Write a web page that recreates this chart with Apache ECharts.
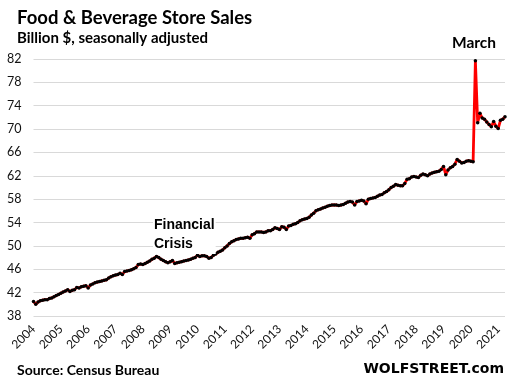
<!DOCTYPE html>
<html>
<head>
<meta charset="utf-8">
<script src="https://cdn.jsdelivr.net/npm/echarts@6/dist/echarts.min.js"></script>
<style>
html,body{margin:0;padding:0;background:#fff;}
#chart{width:510px;height:382px;}
</style>
</head>
<body>
<div id="chart"></div>
<script>
// Year tick labels (each year has 12 monthly points; 2021 runs Jan-Apr)
const years = ["2004","2005","2006","2007","2008","2009","2010","2011","2012","2013","2014","2015","2016","2017","2018","2019","2020","2021"];
const monthsInLastYear = 4;

// Food & beverage store sales, billion $, seasonally adjusted (monthly)
const sales2004 = [40.5, 40.0, 40.4, 40.6, 40.7, 40.8, 40.8, 41.0, 41.1, 41.3, 41.5, 41.7];
const sales2005 = [41.9, 42.1, 42.3, 42.5, 42.2, 42.4, 42.5, 42.9, 42.8, 43.0, 43.1, 43.2];
const sales2006 = [42.8, 43.3, 43.5, 43.7, 43.8, 43.9, 44.0, 44.1, 44.2, 44.5, 44.7, 44.9];
const sales2007 = [45.0, 45.1, 45.3, 45.1, 45.6, 45.7, 45.8, 45.9, 46.1, 46.3, 46.8, 46.9];
const sales2008 = [46.8, 47.0, 47.2, 47.4, 47.7, 47.9, 48.2, 48.0, 47.7, 47.5, 47.3, 47.1];
const sales2009 = [47.3, 47.5, 47.0, 47.1, 47.2, 47.3, 47.4, 47.5, 47.6, 47.7, 47.9, 48.0];
const sales2010 = [48.4, 48.2, 48.3, 48.3, 48.2, 47.9, 48.0, 48.4, 48.6, 48.9, 49.1, 49.3];
const sales2011 = [49.7, 50.0, 50.4, 50.7, 50.9, 51.1, 51.2, 51.3, 51.3, 51.4, 51.5, 51.3];
const sales2012 = [51.9, 52.1, 52.4, 52.4, 52.4, 52.3, 52.4, 52.6, 52.6, 52.8, 53.1, 53.0];
const sales2013 = [52.8, 53.3, 53.2, 52.8, 53.4, 53.5, 53.7, 53.8, 54.0, 54.3, 54.5, 54.6];
const sales2014 = [54.7, 54.9, 55.3, 55.6, 56.0, 56.2, 56.3, 56.5, 56.6, 56.8, 56.9, 57.0];
const sales2015 = [57.0, 57.0, 56.9, 57.0, 57.1, 57.3, 57.5, 57.6, 57.5, 57.0, 57.6, 57.7];
const sales2016 = [57.8, 57.7, 57.2, 58.0, 58.1, 58.2, 58.3, 58.5, 58.7, 58.8, 59.1, 59.3];
const sales2017 = [59.6, 60.0, 60.2, 60.5, 60.4, 60.3, 60.3, 60.7, 61.4, 61.5, 61.8, 61.9];
const sales2018 = [61.8, 61.7, 62.1, 62.3, 62.2, 62.0, 62.3, 62.5, 62.6, 62.7, 62.8, 63.1];
const sales2019 = [63.6, 62.2, 63.0, 63.4, 63.6, 64.0, 64.8, 64.5, 64.2, 64.3, 64.5, 64.6];
const sales2020 = [64.5, 64.4, 81.7, 71.1, 72.7, 71.9, 71.7, 71.2, 70.8, 70.4, 71.3, 70.5];
const sales2021 = [70.1, 71.5, 71.7, 72.1];

// Y tick labels
const yTicks = [38, 42, 46, 50, 54, 58, 62, 66, 70, 74, 78, 82];

const sales = [].concat(sales2004, sales2005, sales2006, sales2007, sales2008, sales2009,
  sales2010, sales2011, sales2012, sales2013, sales2014, sales2015, sales2016, sales2017,
  sales2018, sales2019, sales2020, sales2021);

const categories = [];
years.forEach((y, k) => {
  const n = (k === years.length - 1) ? monthsInLastYear : 12;
  for (let m = 1; m <= n; m++) categories.push(y + "-" + String(m).padStart(2, "0"));
});

const chart = echarts.init(document.getElementById('chart'), null, {renderer: 'canvas'});
const titleFont = 'Lato';
chart.setOption({
  animation: false,
  backgroundColor: '#fff',
  title: [
    {text: 'Food & Beverage Store Sales', left: 17, top: 9, padding: 0,
     textStyle: {fontFamily: titleFont, fontWeight: 'bold', fontSize: 18.5, color: '#000'}},
    {text: 'Billion $, seasonally adjusted', left: 17, top: 31, padding: 0,
     textStyle: {fontFamily: titleFont, fontWeight: 'bold', fontSize: 15, color: '#000'}}
  ],
  grid: {left: 33.5, right: 5, top: 59, bottom: 66, containLabel: false},
  xAxis: {
    type: 'category',
    data: categories,
    boundaryGap: false,
    axisLine: {show: false},
    axisTick: {show: false},
    splitLine: {show: false},
    axisLabel: {
      interval: (i) => i % 12 === 0,
      formatter: (v) => v.slice(0, 4),
      rotate: 45,
      margin: 11,
      fontFamily: 'Lato',
      fontSize: 12,
      color: '#111'
    }
  },
  yAxis: {
    type: 'value',
    min: yTicks[0],
    max: yTicks[yTicks.length - 1],
    interval: yTicks[1] - yTicks[0],
    axisLine: {show: false},
    axisTick: {show: false},
    splitLine: {lineStyle: {color: '#d9d9d9', width: 1}},
    axisLabel: {margin: 12, fontFamily: 'Lato', fontSize: 12.5, color: '#111'}
  },
  series: [{
    type: 'line',
    data: sales,
    showAllSymbol: true,
    symbol: 'circle',
    symbolSize: 3.5,
    itemStyle: {color: '#000'},
    lineStyle: {color: '#ff0000', width: 2.8},
    z: 3
  }],
  graphic: [
    {type: 'text', left: 153, top: 216, z: 10,
     style: {text: 'Financial\nCrisis', font: 'bold 14px "Liberation Sans"', fill: '#000', lineHeight: 19,
             backgroundColor: '#fff', padding: [0, 1, 0, 1]}},
    {type: 'text', left: 452, top: 35, z: 10,
     style: {text: 'March', font: 'bold 15.5px Lato', fill: '#000'}},
    {type: 'text', left: 17, top: 363,
     style: {text: 'Source: Census Bureau', font: 'bold 14px Lato', fill: '#000'}},
    {type: 'text', right: 6, top: 362,
     style: {text: 'WOLFSTREET.com', font: 'bold 14px "DejaVu Sans"', fill: '#000'}}
  ]
});
</script>
</body>
</html>
